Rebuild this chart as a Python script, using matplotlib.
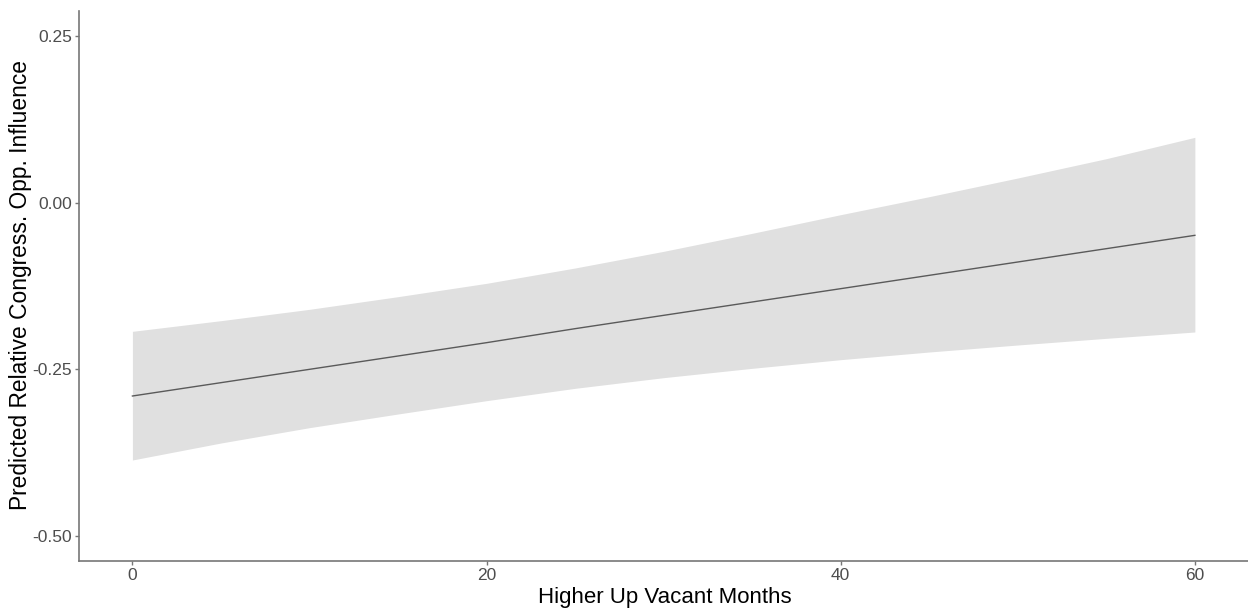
import matplotlib
matplotlib.use("Agg")
import matplotlib.pyplot as plt

# Data
months = [0, 5, 10, 15, 20, 25, 30, 35, 40, 45, 50, 55, 60]
predicted = [-0.290, -0.270, -0.250, -0.230, -0.210, -0.189, -0.169,
             -0.149, -0.129, -0.109, -0.089, -0.069, -0.049]
upper = [-0.193, -0.177, -0.160, -0.141, -0.121, -0.098, -0.073,
         -0.046, -0.018, 0.009, 0.037, 0.066, 0.098]
lower = [-0.386, -0.3605, -0.3375, -0.317, -0.297, -0.2785, -0.2625,
         -0.2485, -0.2355, -0.224, -0.2135, -0.2035, -0.194]
xticks = [0, 20, 40, 60]
yticks = [0.25, 0.00, -0.25, -0.50]
ytick_labels = ["0.25", "0.00", "-0.25", "-0.50"]

plt.rcParams['font.family'] = ['Liberation Sans', 'DejaVu Sans']

W, H = 1248, 608
left_px, right_px, top_px, bottom_px = 79.3, 1248, 11, 561
fig = plt.figure(figsize=(W / 100, H / 100), dpi=100)
ax = fig.add_axes([left_px / W, (H - bottom_px) / H,
                   (right_px - left_px) / W, (bottom_px - top_px) / H])

ax.fill_between(months, lower, upper, color="#E0E0E0", linewidth=0)
ax.plot(months, predicted, color="#5A5A5A", linewidth=1.0)

ax.set_xlim(-3, 63)
ax.set_ylim(-0.5375, 0.2875)
ax.set_xticks(xticks)
ax.set_yticks(yticks)
ax.set_yticklabels(ytick_labels)

for s in ["top", "right"]:
    ax.spines[s].set_visible(False)
for s in ["left", "bottom"]:
    ax.spines[s].set_color("#777777")
    ax.spines[s].set_linewidth(1.2)

ax.tick_params(axis="both", colors="#777777", labelcolor="#4D4D4D",
               labelsize=12.5, length=2.7, width=1, pad=2.3)

ax.set_xlabel("Higher Up Vacant Months", fontsize=16, color="black")
ax.set_ylabel("Predicted Relative Congress. Opp. Influence", fontsize=16.4,
              color="black")
ax.xaxis.label.set_va("baseline")
ax.yaxis.label.set_va("baseline")
aw = right_px - left_px
ah = bottom_px - top_px
ax.xaxis.set_label_coords((665 - left_px) / aw, (bottom_px - 602.7) / ah)
ax.yaxis.set_label_coords((27.5 - left_px) / aw, (bottom_px - 284.5) / ah)

fig.savefig("out.png", dpi=100, facecolor="white")
